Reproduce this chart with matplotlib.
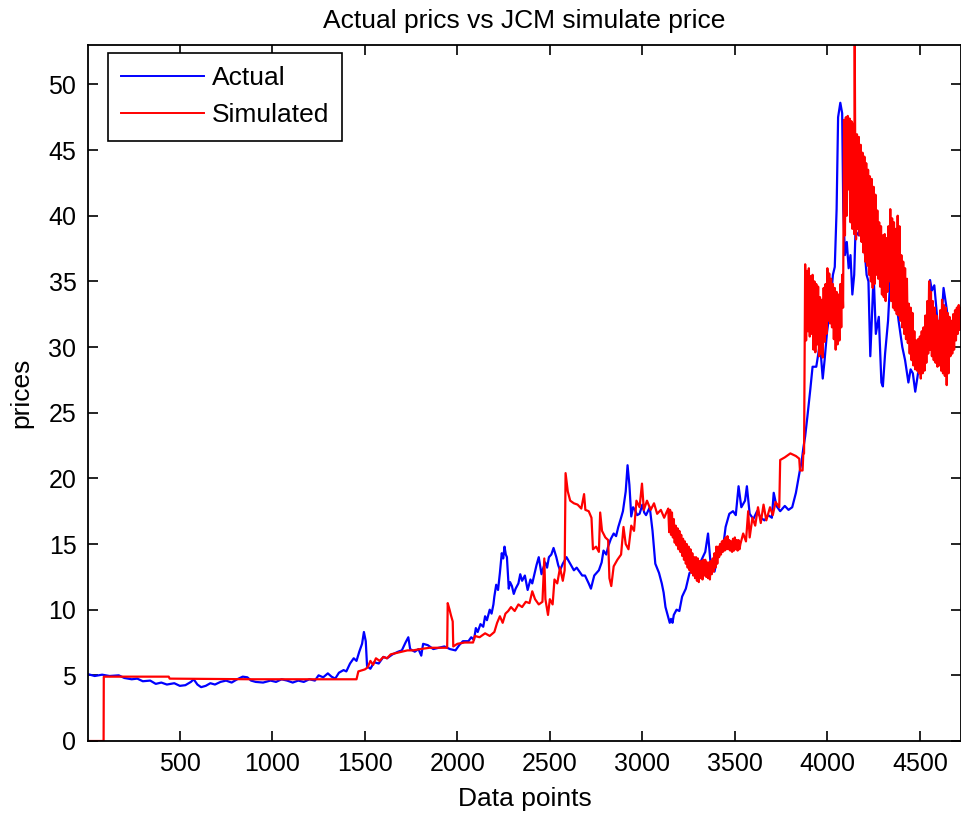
import numpy as np
import matplotlib
matplotlib.use("Agg")
import matplotlib.pyplot as plt

plt.rcParams['font.family'] = ['Liberation Sans', 'DejaVu Sans']

# actual price series (data point index, price)
actual_idx = [1, 40, 80, 120, 170, 200, 240, 270, 300, 340, 370, 400, 430, 470, 500, 530, 560, 575,
              595, 615, 640, 665, 690, 720, 750, 780, 810, 840, 865, 885, 910, 950, 990, 1020, 1050,
              1080, 1110, 1140, 1170, 1200, 1230, 1250, 1275, 1300, 1320, 1340, 1360, 1385, 1400, 1420,
              1440, 1455, 1470, 1485, 1495, 1505, 1512, 1530, 1550, 1575, 1600, 1620, 1650, 1680, 1700,
              1720, 1735, 1745, 1770, 1790, 1805, 1815, 1840, 1870, 1900, 1930, 1960, 1990, 2010, 2030,
              2060, 2075, 2090, 2100, 2110, 2125, 2140, 2150, 2160, 2175, 2185, 2195, 2200, 2210, 2220,
              2230, 2240, 2248, 2255, 2262, 2268, 2278, 2285, 2295, 2305, 2315, 2330, 2340, 2350, 2365,
              2380, 2395, 2405, 2415, 2428, 2440, 2455, 2465, 2475, 2485, 2495, 2508, 2520, 2535, 2545,
              2555, 2570, 2590, 2610, 2630, 2645, 2660, 2675, 2690, 2710, 2722, 2740, 2765, 2780, 2790,
              2805, 2815, 2830, 2845, 2858, 2870, 2885, 2895, 2910, 2920, 2930, 2940, 2950, 2960, 2972,
              2985, 3000, 3010, 3020, 3040, 3055, 3070, 3090, 3105, 3115, 3125, 3140, 3148, 3155, 3163,
              3170, 3185, 3200, 3215, 3235, 3255, 3280, 3300, 3320, 3340, 3355, 3370, 3390, 3410, 3435,
              3450, 3470, 3490, 3505, 3520, 3535, 3555, 3565, 3580, 3600, 3620, 3640, 3660, 3680, 3700,
              3710, 3725, 3745, 3770, 3790, 3810, 3830, 3850, 3860, 3870, 3880, 3892, 3908, 3920, 3940,
              3960, 3975, 3985, 3998, 4015, 4030, 4040, 4050, 4058, 4070, 4080, 4086, 4095, 4105, 4115,
              4125, 4135, 4145, 4152, 4170, 4183, 4195, 4212, 4222, 4232, 4240, 4250, 4262, 4278, 4292,
              4300, 4312, 4328, 4346, 4355, 4368, 4385, 4405, 4420, 4438, 4450, 4462, 4475, 4490, 4510,
              4528, 4540, 4555, 4565, 4578, 4595, 4612, 4628, 4645, 4665, 4685, 4705, 4725]
actual_val = [5.1, 4.95, 5.05, 4.95, 5.0, 4.8, 4.7, 4.75, 4.55, 4.6, 4.35, 4.45, 4.3, 4.4, 4.2, 4.25, 4.5, 4.7,
              4.3, 4.1, 4.2, 4.4, 4.3, 4.5, 4.6, 4.45, 4.7, 4.9, 4.85, 4.6, 4.5, 4.45, 4.6, 4.5, 4.7,
              4.6, 4.45, 4.6, 4.5, 4.7, 4.6, 5.0, 4.85, 5.15, 4.9, 4.75, 5.2, 5.4, 5.3, 5.9,
              6.3, 6.1, 6.8, 7.4, 8.3, 7.6, 5.7, 5.5, 6.0, 5.9, 6.4, 6.3, 6.6, 6.8, 6.9,
              7.5, 7.9, 7.0, 6.8, 7.0, 6.5, 7.4, 7.3, 7.0, 7.1, 7.2, 7.0, 6.9, 7.3, 7.6,
              7.6, 7.9, 7.7, 8.6, 8.3, 8.9, 8.7, 9.5, 9.2, 10.0, 9.7, 10.4, 11.0, 11.9, 11.5,
              12.8, 14.3, 13.9, 14.8, 14.2, 14.0, 11.6, 12.1, 11.8, 11.2, 11.6, 12.0, 12.7, 12.2, 12.6,
              11.5, 12.3, 12.0, 12.6, 13.4, 14.0, 12.7, 13.2, 13.6, 13.2, 14.0, 14.2, 14.7, 14.0, 13.4,
              13.0, 13.5, 14.0, 13.5, 13.0, 13.2, 12.9, 12.6, 12.6, 12.0, 11.6, 12.6, 13.0, 13.6, 14.5,
              14.2, 14.8, 15.4, 15.8, 15.6, 16.3, 17.0, 17.5, 19.0, 21.0, 19.5, 17.1, 17.8, 17.6, 17.2,
              17.3, 18.0, 17.4, 17.2, 17.8, 16.0, 13.5, 12.8, 12.0, 11.3, 10.2, 9.4, 9.0, 9.3, 9.0,
              9.6, 10.0, 9.9, 11.0, 11.6, 12.8, 13.0, 13.3, 13.8, 14.4, 15.8, 13.3, 12.9, 14.3, 14.6,
              16.3, 17.3, 17.5, 17.2, 19.4, 17.8, 18.3, 19.4, 17.3, 16.9, 17.5, 17.0, 16.8, 17.2, 17.0,
              18.9, 17.9, 17.5, 17.9, 17.6, 17.8, 18.9, 20.5, 21.2, 22.3, 23.2, 24.7, 26.8, 28.5, 28.5,
              30.3, 27.6, 29.0, 31.1, 33.0, 35.5, 36.1, 40.5, 47.5, 48.6, 47.8, 40.5, 37.0, 38.0, 36.0,
              37.0, 34.0, 35.5, 38.8, 38.5, 40.9, 38.5, 35.5, 35.0, 29.3, 32.0, 35.6, 31.0, 32.3, 27.3,
              27.0, 29.5, 32.0, 36.9, 36.1, 34.0, 32.0, 30.0, 29.0, 27.3, 28.3, 28.0, 26.6, 28.0, 28.5,
              28.8, 30.1, 35.1, 34.3, 34.7, 32.0, 31.0, 34.5, 32.9, 30.5, 31.5, 31.8, 31.3]

# simulated price, calm part (data point index, price)
sim_idx = [1, 88, 89, 440, 445, 900, 1455, 1465, 1500, 1515, 1530, 1545, 1560, 1580, 1600, 1620, 1640,
           1670, 1700, 1730, 1760, 1800, 1850, 1900, 1945, 1948, 1958, 1965, 1975, 1978, 2000, 2040,
           2085, 2095, 2120, 2150, 2175, 2200, 2215, 2230, 2245, 2260, 2275, 2290, 2310, 2330, 2350,
           2370, 2390, 2405, 2420, 2440, 2460, 2470, 2476, 2490, 2500, 2515, 2525, 2540, 2555, 2570,
           2580, 2585, 2597, 2610, 2630, 2650, 2670, 2685, 2692, 2710, 2725, 2733, 2750, 2765, 2772,
           2782, 2800, 2815, 2822, 2832, 2845, 2865, 2885, 2898, 2910, 2925, 2940, 2955, 2968, 2985,
           2998, 3008, 3025, 3045, 3063, 3080, 3100, 3118, 3130]
sim_val = [0.0, 0.0, 4.9, 4.9, 4.75, 4.7, 4.7, 5.3, 5.45, 5.6, 6.1, 5.8, 6.3, 6.1, 6.4, 6.3, 6.6,
           6.7, 6.8, 6.9, 6.9, 7.0, 7.1, 7.1, 7.1, 10.5, 10.0, 9.6, 9.1, 7.2, 7.4, 7.5,
           7.5, 8.0, 7.9, 8.2, 8.0, 8.3, 9.0, 9.5, 9.0, 9.7, 9.9, 10.2, 9.9, 10.4, 10.2,
           10.6, 10.5, 11.4, 10.8, 10.4, 10.6, 13.9, 10.8, 9.6, 10.8, 10.4, 12.3, 12.0, 13.2, 12.2,
           13.0, 20.4, 19.0, 18.3, 18.1, 18.0, 17.7, 18.8, 17.6, 17.5, 17.0, 14.6, 14.8, 14.4, 17.4,
           16.0, 15.5, 15.3, 12.4, 11.8, 13.3, 13.8, 14.2, 16.3, 15.0, 14.6, 16.4, 16.0, 18.3, 17.8,
           19.6, 17.6, 18.3, 17.6, 18.1, 17.3, 17.6, 17.0, 17.4]

# oscillating stretch from 3140, every 5 points
band1_start = 3140
band1_val = [17.7, 15.9, 17.6, 15.7, 17.4, 15.5, 16.9, 15.1, 16.4, 14.9,
             16.2, 14.6, 16.0, 14.4, 15.7, 14.1, 15.4, 13.8, 15.2, 13.5,
             15.0, 13.2, 14.8, 13.0, 14.6, 12.8, 14.3, 12.6, 14.0, 12.4,
             14.0, 12.2, 13.9, 12.1, 13.7, 12.4, 13.7, 12.3, 13.8, 12.6,
             13.8, 12.5, 13.6, 12.4, 13.6, 12.3, 13.7, 12.7, 13.9, 12.9,
             14.3, 13.2, 14.8, 13.5, 14.8, 14.0, 15.0, 14.2, 15.2, 14.4,
             15.3, 14.5, 15.5, 14.6, 15.6, 14.6, 15.3, 14.5, 15.2, 14.4,
             15.4, 14.5, 15.5, 14.6, 15.3, 14.5, 15.3, 14.6, 15.0]

sim_mid_idx = [3545, 3560, 3572, 3580, 3595, 3610, 3625, 3640, 3655, 3670, 3690, 3705, 3720, 3740,
               3745, 3770, 3800, 3830, 3848, 3852, 3866, 3870, 3874]
sim_mid_val = [15.8, 15.2, 17.5, 15.5, 17.0, 16.4, 17.8, 16.6, 18.0, 16.8, 17.8, 17.2, 18.2, 17.8,
               21.4, 21.6, 21.9, 21.7, 21.5, 20.6, 20.6, 21.9, 21.9]

# oscillating stretch from 3880, every 5 points
band2_start = 3880
band2_val = [36.3, 30.5, 35.8, 31.2, 36.0, 30.8, 35.4, 31.0, 35.5, 29.8,
             35.0, 29.6, 34.8, 30.2, 34.6, 29.3, 33.8, 29.5, 33.6, 29.2,
             34.5, 30.4, 34.8, 31.0, 36.0, 32.0, 35.6, 31.8, 35.2, 31.5,
             34.8, 30.6, 34.5, 29.8, 34.2, 30.2, 34.0, 30.5, 34.8, 31.5,
             35.5, 33.0, 47.3, 38.5, 47.5, 40.0, 47.6, 42.0, 47.4, 39.5,
             47.2, 39.0, 47.0, 38.6, 46.6, 38.2, 46.2, 39.0, 46.0, 38.5,
             45.4, 38.0, 44.8, 37.2, 44.5, 36.5, 44.0, 36.2, 43.5, 35.5,
             43.0, 35.0, 42.8, 34.5, 42.2, 34.8, 41.6, 35.5, 40.4, 35.2,
             39.5, 34.6, 39.2, 34.0, 38.5, 33.8, 38.6, 33.5, 38.3, 34.2,
             39.2, 35.0, 40.5, 33.5, 39.8, 33.0, 39.5, 32.8, 39.0, 32.5,
             40.0, 32.4, 39.2, 32.0, 37.0, 31.5, 36.5, 31.0, 36.0, 30.6,
             35.2, 30.3, 33.3, 29.5, 33.0, 29.0, 32.6, 28.6, 31.2, 28.3,
             30.5, 28.2, 30.6, 28.0, 30.8, 27.6, 31.2, 28.0, 31.5, 28.2,
             32.4, 28.8, 33.5, 29.5, 35.0, 29.8, 34.2, 29.3, 33.5, 29.0,
             33.0, 28.8, 32.4, 28.5, 32.0, 28.6, 32.8, 28.2, 33.6, 28.0,
             33.2, 27.8, 33.0, 27.1, 32.6, 28.0, 32.3, 29.3, 32.0, 29.5,
             32.5, 29.8, 32.8, 30.5, 33.0, 31.0, 33.2, 31.3, 33.0]
spike_idx = [4148]
spike_val = [53.0]
sim_end_idx = [4725]
sim_end_val = [31.5]


def build_simulated():
    b1_idx = np.arange(band1_start, band1_start + 5 * len(band1_val), 5)
    b2_idx = np.arange(band2_start, band2_start + 5 * len(band2_val), 5)
    idx = np.concatenate([sim_idx, b1_idx, sim_mid_idx, b2_idx, spike_idx, sim_end_idx])
    val = np.concatenate([sim_val, band1_val, sim_mid_val, band2_val, spike_val, sim_end_val])
    order = np.argsort(idx, kind="stable")
    return idx[order], val[order]


fig = plt.figure(figsize=(9.62, 8.14), dpi=100)
ax = fig.add_axes([87.5 / 962, 73 / 814, 874 / 962, 696 / 814])

sx, sy = build_simulated()
ax.plot(actual_idx, actual_val, color=(0, 0, 1), lw=1.6, label="Actual")
ax.plot(sx, sy, color=(1, 0, 0), lw=1.6, label="Simulated")

ax.set_xlim(1, 4725)
ax.set_ylim(0, 53)
ax.set_xticks(np.arange(500, 4501, 500))
ax.set_yticks(np.arange(0, 51, 5))

tick_fs = 18
text_fs = 19
ax.tick_params(direction="in", length=7, width=1.2, top=True, right=True,
               labelsize=tick_fs, pad=8, colors="black")
for sp in ax.spines.values():
    sp.set_linewidth(1.3)

ax.set_title("Actual prics vs JCM simulate price", fontsize=text_fs, pad=12)
ax.set_xlabel("Data points", fontsize=text_fs, labelpad=8)
ax.set_ylabel("prices", fontsize=text_fs, labelpad=11)

leg = ax.legend(loc="upper left", bbox_to_anchor=(0.0235, 0.9885), borderaxespad=0,
                fancybox=False, edgecolor="black", fontsize=text_fs, handlelength=3.15,
                handletextpad=0.27, labelspacing=0.5, borderpad=0.5, framealpha=1)
leg.get_frame().set_linewidth(1.2)
for line in leg.get_lines():
    line.set_linewidth(1.4)

fig.savefig("out.png", dpi=100)
